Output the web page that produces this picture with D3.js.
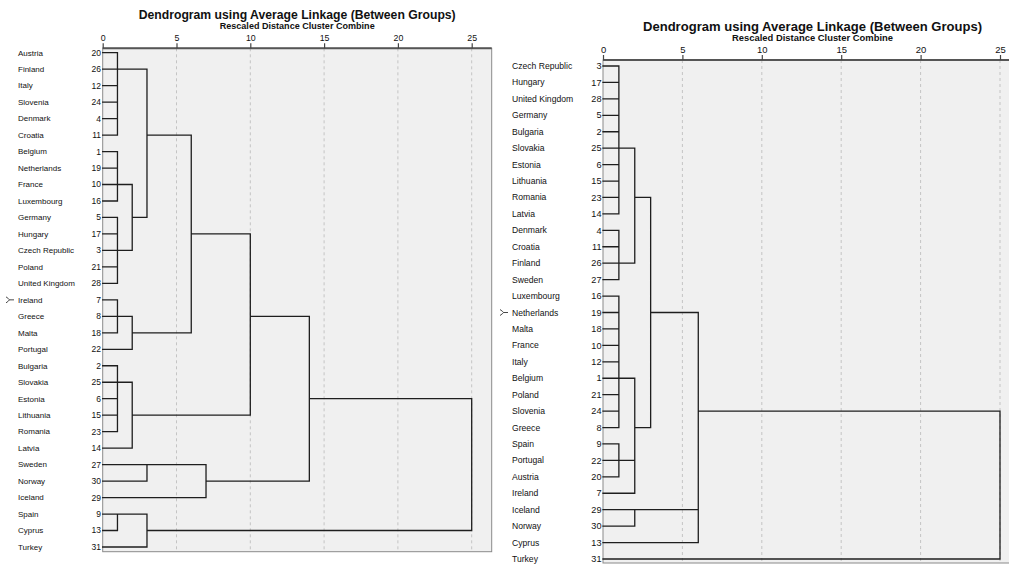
<!DOCTYPE html>
<html>
<head>
<meta charset="utf-8">
<script src="https://cdn.jsdelivr.net/npm/d3@7"></script>
<style>
  html, body { margin: 0; padding: 0; background: #ffffff; }
  svg { display: block; }
  text { font-family: "Liberation Sans", Arial, sans-serif; fill: #111; }
</style>
</head>
<body>
<svg id="chart" width="1009" height="564"></svg>
<script>
// ---------------- DATA ----------------
const titleText = "Dendrogram using Average Linkage (Between Groups)";
const subtitleText = "Rescaled Distance Cluster Combine";
const tickValues = [0, 5, 10, 15, 20, 25];

// Left dendrogram: leaf order, case numbers
const leftNames = ["Austria","Finland","Italy","Slovenia","Denmark","Croatia","Belgium","Netherlands",
  "France","Luxembourg","Germany","Hungary","Czech Republic","Poland","United Kingdom","Ireland",
  "Greece","Malta","Portugal","Bulgaria","Slovakia","Estonia","Lithuania","Romania","Latvia",
  "Sweden","Norway","Iceland","Spain","Cyprus","Turkey"];
const leftIds = [20,26,12,24,4,11,1,19,10,16,5,17,3,21,28,7,8,18,22,2,25,6,15,23,14,27,30,29,9,13,31];
// merges: [rescaled distance, row of outgoing link, ...children]  (number = leaf row, "mK" = merge K)
const leftMerges = [
  [1, 1, 0, 1, 2, 3, 4, 5],
  [1, 8, 6, 7, 8, 9],
  [1, 12, 10, 11, 12, 13, 14],
  [2, 10, "m1", "m2"],
  [3, 5, "m0", "m3"],
  [1, 16, 15, 16, 17],
  [2, 17, "m5", 18],
  [6, 11, "m4", "m6"],
  [1, 20, 19, 20, 21, 22, 23],
  [2, 22, "m8", 24],
  [10, 16, "m7", "m9"],
  [3, 25, 25, 26],
  [7, 26, "m11", 27],
  [14, 21, "m10", "m12"],
  [1, 28, 28, 29],
  [3, 29, "m14", 30],
  [25, null, "m13", "m15"]
];
const leftMarkedRow = 15;

// Right dendrogram
const rightNames = ["Czech Republic","Hungary","United Kingdom","Germany","Bulgaria","Slovakia","Estonia",
  "Lithuania","Romania","Latvia","Denmark","Croatia","Finland","Sweden","Luxembourg","Netherlands",
  "Malta","France","Italy","Belgium","Poland","Slovenia","Greece","Spain","Portugal","Austria",
  "Ireland","Iceland","Norway","Cyprus","Turkey"];
const rightIds = [3,17,28,5,2,25,6,15,23,14,4,11,26,27,16,19,18,10,12,1,21,24,8,9,22,20,7,29,30,13,31];
const rightMerges = [
  [1, 5, 0, 1, 2, 3, 4, 5, 6, 7, 8, 9],
  [1, 12, 10, 11, 12, 13],
  [2, 8, "m0", "m1"],
  [1, 19, 14, 15, 16, 17, 18, 19, 20, 21, 22],
  [1, 24, 23, 24, 25],
  [2, 22, "m3", "m4", 26],
  [3, 15, "m2", "m5"],
  [2, 27, 27, 28],
  [6, 21, "m6", "m7", 29],
  [25, null, "m8", 30]
];
const rightMarkedRow = 15;

// ---------------- DRAWING ----------------
const svg = d3.select("#chart");

function drawPanel(cfg, names, ids, merges, markedRow) {
  const g = svg.append("g");
  const fs = cfg.fs;
  const x = d3.scaleLinear().domain([0, 25]).range([cfg.x0, cfg.x25]);
  const y = d3.scalePoint().domain(d3.range(names.length)).range([cfg.row0, cfg.rowN]);

  // plot box
  g.append("rect")
    .attr("x", x(0)).attr("y", cfg.boxTop)
    .attr("width", cfg.boxRight - x(0)).attr("height", cfg.boxBottom - cfg.boxTop)
    .attr("fill", "#f0f0f0").attr("stroke", "#8a8a8a").attr("stroke-width", 1);

  // dashed grid lines
  g.selectAll("line.grid").data(tickValues.filter(d => d > 0)).enter().append("line")
    .attr("class", "grid")
    .attr("x1", d => x(d)).attr("x2", d => x(d))
    .attr("y1", cfg.boxTop).attr("y2", cfg.boxBottom)
    .attr("stroke", "#c4c4c4").attr("stroke-width", 1).attr("stroke-dasharray", "3,3");

  // top axis
  const axis = d3.axisTop(x).tickValues(tickValues).tickSize(5).tickPadding(2).tickSizeOuter(0);
  const ag = g.append("g").attr("transform", `translate(0,${cfg.boxTop})`).call(axis);
  ag.select(".domain").attr("stroke", "#555").attr("stroke-width", 2)
    .attr("d", `M${x(0)},0H${cfg.boxRight}`);
  ag.selectAll(".tick line").attr("stroke", "#444").attr("stroke-width", 1.2);
  ag.selectAll(".tick text")
    .style("font-family", '"Liberation Sans", Arial, sans-serif')
    .style("font-size", (8.8 * fs) + "px").attr("fill", "#111");

  // titles
  const cx = (x(0) + cfg.boxRight) / 2;
  g.append("text").attr("x", cx).attr("y", cfg.titleY)
    .attr("text-anchor", "middle").style("font-weight", "bold")
    .style("font-size", (12.2 * fs) + "px")
    .attr("textLength", cfg.titleLen).attr("lengthAdjust", "spacingAndGlyphs")
    .text(titleText);
  g.append("text").attr("x", cx).attr("y", cfg.subY)
    .attr("text-anchor", "middle").style("font-weight", "bold")
    .style("font-size", (8.4 * fs) + "px")
    .attr("textLength", cfg.subLen).attr("lengthAdjust", "spacingAndGlyphs")
    .text(subtitleText);

  // leaf labels
  g.selectAll("text.name").data(names).enter().append("text")
    .attr("class", "name")
    .attr("x", cfg.nameX).attr("y", (d, i) => y(i)).attr("dy", "0.35em")
    .style("font-size", (8 * fs) + "px")
    .text(d => d);
  g.selectAll("text.id").data(ids).enter().append("text")
    .attr("class", "id")
    .attr("x", cfg.idX).attr("y", (d, i) => y(i)).attr("dy", "0.35em")
    .attr("text-anchor", "end")
    .style("font-size", (8.5 * fs) + "px")
    .text(d => d);

  // marker before the selected case
  const my = y(markedRow);
  g.append("path")
    .attr("d", `M${cfg.markX},${my - 3} Q${cfg.markX + 3},${my - 1} ${cfg.markX + 3.5},${my} Q${cfg.markX + 3},${my + 1} ${cfg.markX},${my + 3} M${cfg.markX + 3.5},${my} H${cfg.markX + 8}`)
    .attr("fill", "none").attr("stroke", "#333").attr("stroke-width", 0.9);

  // dendrogram links
  const nodes = merges.map(m => ({ h: m[0], out: m[1], kids: m.slice(2) }));
  const segs = [];
  nodes.forEach(n => {
    const mx = x(n.h);
    const ys = n.kids.map(k => {
      if (typeof k === "number") {
        segs.push([x(0), y(k), mx, y(k)]);
        return y(k);
      }
      const c = nodes[+k.slice(1)];
      segs.push([x(c.h), y(c.out), mx, y(c.out)]);
      return y(c.out);
    });
    segs.push([mx, d3.min(ys), mx, d3.max(ys)]);
  });
  g.append("path")
    .attr("d", segs.map(s => `M${s[0]},${s[1]}L${s[2]},${s[3]}`).join(""))
    .attr("fill", "none").attr("stroke", "#1e1e1e").attr("stroke-width", 1.3)
    .attr("stroke-linecap", "square");
}

drawPanel({
  x0: 102.7, x25: 471.7, boxRight: 491.7, boxTop: 48.3, boxBottom: 551.7,
  row0: 52.7, rowN: 547, nameX: 18, idX: 101, markX: 6,
  titleY: 18.5, subY: 29, titleLen: 317, subLen: 155, fs: 1
}, leftNames, leftIds, leftMerges, leftMarkedRow);

drawPanel({
  x0: 603, x25: 1000, boxRight: 1022, boxTop: 60, boxBottom: 563,
  row0: 66, rowN: 559, nameX: 512, idX: 601.5, markX: 500,
  titleY: 30.5, subY: 41.3, titleLen: 339, subLen: 161, fs: 1.075
}, rightNames, rightIds, rightMerges, rightMarkedRow);
</script>
</body>
</html>
